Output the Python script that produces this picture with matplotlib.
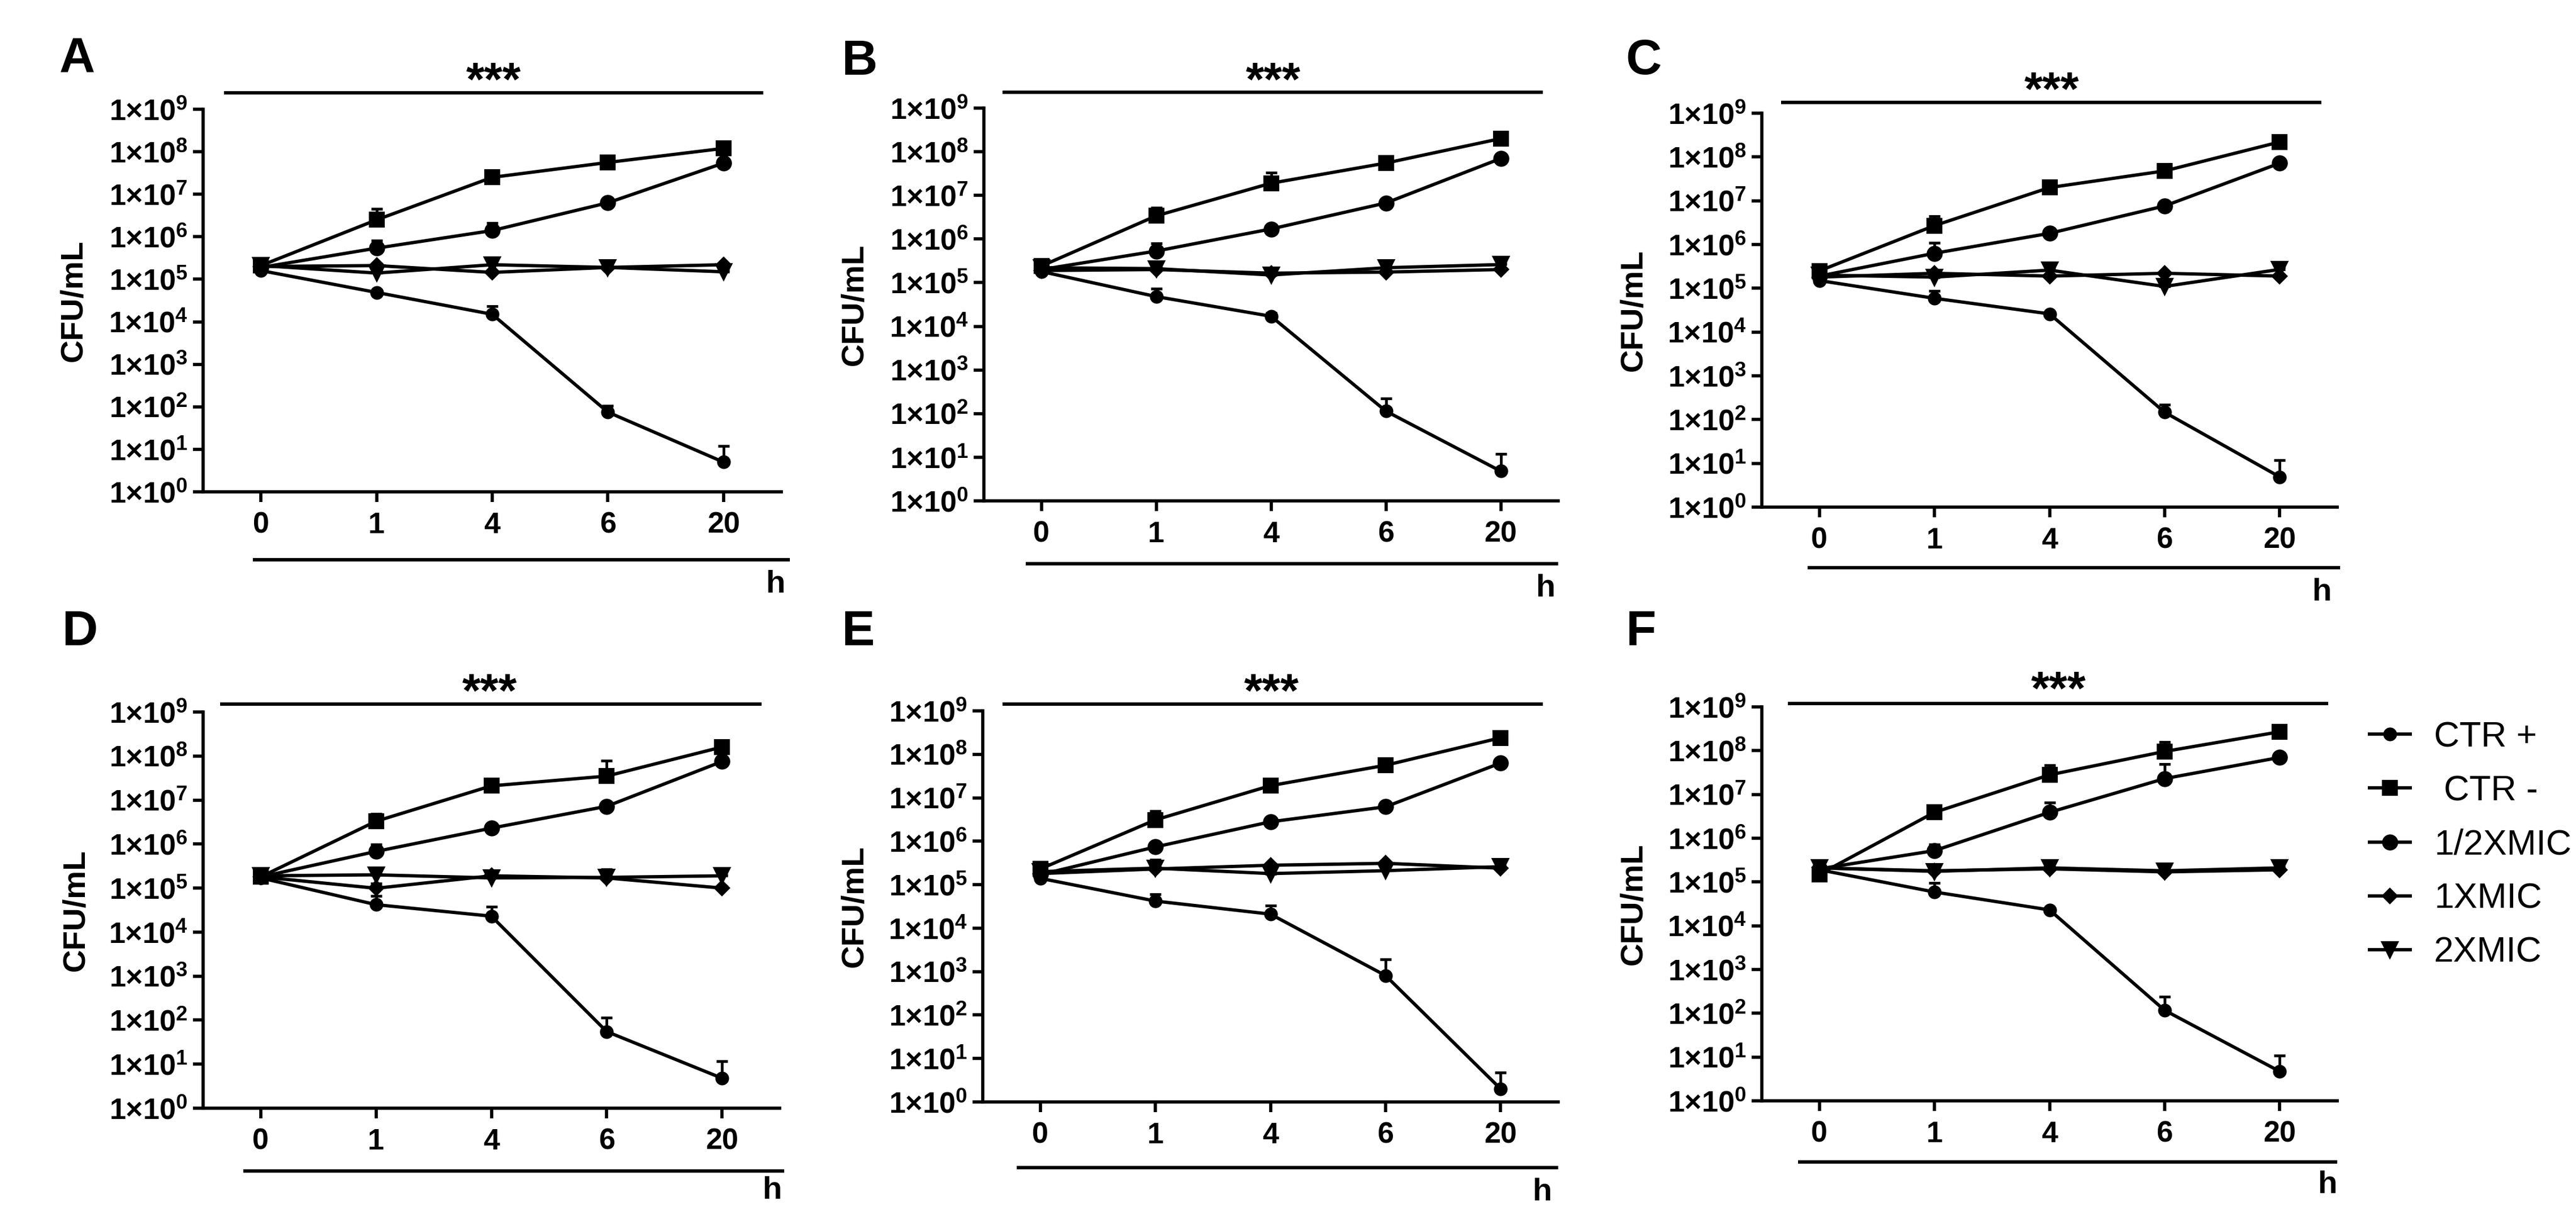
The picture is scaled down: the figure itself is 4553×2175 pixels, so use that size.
import matplotlib
matplotlib.use('Agg')
import matplotlib.pyplot as plt
from matplotlib import font_manager as fm
from matplotlib.lines import Line2D
from matplotlib.ticker import NullLocator
import numpy as np

names = {f.name for f in fm.fontManager.ttflist}
NARROW = 'Liberation Sans Narrow' if 'Liberation Sans Narrow' in names else 'Liberation Sans'
REG = 'Liberation Sans' if 'Liberation Sans' in names else 'DejaVu Sans'

plt.rcParams['font.family'] = [NARROW, 'DejaVu Sans']
plt.rcParams['font.weight'] = 'bold'
plt.rcParams['mathtext.fontset'] = 'custom'
plt.rcParams['mathtext.rm'] = NARROW
plt.rcParams['mathtext.default'] = 'rm'

# ---------------- data ----------------
time_labels = ['0', '1', '4', '6', '20']
panel_labels = ['A', 'B', 'C', 'D', 'E', 'F']
series_names = ['CTR +', ' CTR -', '1/2XMIC', '1XMIC', '2XMIC']
ytick_values = [1e0, 1e1, 1e2, 1e3, 1e4, 1e5, 1e6, 1e7, 1e8, 1e9]
ytick_labels = ['1×10$^{0}$', '1×10$^{1}$', '1×10$^{2}$', '1×10$^{3}$', '1×10$^{4}$',
                '1×10$^{5}$', '1×10$^{6}$', '1×10$^{7}$', '1×10$^{8}$', '1×10$^{9}$']
y_label = 'CFU/mL'
x_unit = 'h'
significance = '***'

ctr_pos_mean = [
    [1.6e5, 4.9e4, 1.5e4, 75, 5.0],
    [1.8e5, 4.8e4, 1.7e4, 114, 4.8],
    [1.5e5, 5.9e4, 2.6e4, 147, 4.9],
    [1.7e5, 4.2e4, 2.3e4, 55, 4.8],
    [1.4e5, 4.2e4, 2.1e4, 810, 2.0],
    [1.9e5, 5.9e4, 2.3e4, 117, 4.7],
]
ctr_pos_err = [
    [0, 6e3, 8e3, 30, 7],
    [0, 2.5e4, 3e3, 110, 7],
    [0, 2.9e4, 3e3, 70, 7],
    [0, 2.5e4, 1.5e4, 60, 7],
    [0, 1.8e4, 1.2e4, 1100, 2.7],
    [0, 3.6e4, 3e3, 120, 6],
]
ctr_neg_mean = [
    [2.1e5, 2.5e6, 2.5e7, 5.6e7, 1.2e8],
    [2.4e5, 3.4e6, 1.9e7, 5.5e7, 2.0e8],
    [2.5e5, 2.7e6, 2.0e7, 4.8e7, 2.2e8],
    [1.8e5, 3.3e6, 2.1e7, 3.5e7, 1.6e8],
    [2.3e5, 3.1e6, 1.9e7, 5.6e7, 2.4e8],
    [1.5e5, 3.9e6, 2.8e7, 9.6e7, 2.7e8],
]
ctr_neg_err = [
    [0, 2.0e6, 3e6, 8e6, 2e7],
    [0, 1.8e6, 1.4e7, 8e6, 3e7],
    [0, 1.7e6, 3e6, 5e6, 2e7],
    [0, 1.5e6, 3e6, 4.4e7, 1.5e7],
    [0, 1.8e6, 2e6, 5e6, 2e7],
    [0, 5e5, 1.9e7, 6e7, 2e7],
]
half_mic_mean = [
    [1.9e5, 5.4e5, 1.4e6, 6.3e6, 5.4e7],
    [2.0e5, 5.3e5, 1.7e6, 6.7e6, 7.0e7],
    [1.9e5, 6.3e5, 1.8e6, 7.6e6, 7.2e7],
    [1.8e5, 6.8e5, 2.3e6, 7.2e6, 7.5e7],
    [1.7e5, 7.4e5, 2.8e6, 6.2e6, 6.3e7],
    [2.0e5, 5.2e5, 3.9e6, 2.3e7, 7.0e7],
]
half_mic_err = [
    [0, 2.7e5, 7e5, 1e6, 5e6],
    [0, 2.6e5, 2e5, 1e6, 8e6],
    [0, 4.5e5, 2e5, 1e6, 5e6],
    [0, 3e5, 2e5, 5e5, 5e6],
    [0, 1e5, 3e5, 5e5, 5e6],
    [0, 2e5, 2.6e6, 2.7e7, 5e6],
]
one_mic_mean = [
    [2.0e5, 2.1e5, 1.45e5, 1.9e5, 2.2e5],
    [1.9e5, 2.0e5, 1.65e5, 1.75e5, 2.0e5],
    [1.8e5, 2.2e5, 1.9e5, 2.2e5, 1.9e5],
    [1.8e5, 9.9e4, 1.9e5, 1.7e5, 1.0e5],
    [1.8e5, 2.3e5, 2.8e5, 3.1e5, 2.4e5],
    [2.1e5, 1.8e5, 2.0e5, 1.7e5, 1.9e5],
]
one_mic_err = [
    [0, 2e4, 1e4, 1e4, 1e4],
    [0, 1e4, 1e4, 1e4, 1e4],
    [0, 2e4, 1e4, 1e4, 1e4],
    [0, 3e4, 1e4, 1e4, 1e4],
    [0, 2e4, 2e4, 2e4, 1e4],
    [0, 2e4, 1e4, 2e4, 1e4],
]
two_mic_mean = [
    [2.1e5, 1.4e5, 2.2e5, 1.9e5, 1.5e5],
    [2.2e5, 2.1e5, 1.5e5, 2.2e5, 2.6e5],
    [2.0e5, 1.8e5, 2.6e5, 1.1e5, 2.7e5],
    [1.9e5, 2.0e5, 1.7e5, 1.75e5, 1.9e5],
    [2.0e5, 2.4e5, 1.8e5, 2.1e5, 2.6e5],
    [2.1e5, 1.75e5, 2.1e5, 1.8e5, 2.1e5],
]
two_mic_err = [
    [0, 1e4, 4e4, 1e4, 1e4],
    [0, 2e4, 1e4, 2e4, 2e4],
    [0, 2e4, 4e4, 2e4, 3e4],
    [0, 2e4, 1e4, 9e4, 1e4],
    [0, 1.4e5, 1e4, 1e4, 1e4],
    [0, 7e4, 1e4, 6e4, 1e4],
]

series_means = [ctr_pos_mean, ctr_neg_mean, half_mic_mean, one_mic_mean, two_mic_mean]
series_errs = [ctr_pos_err, ctr_neg_err, half_mic_err, one_mic_err, two_mic_err]

# ---------------- style / layout (pixels in a 4553x2175 canvas) ----------------
W, H = 4553, 2175
DPI = 300
styles = [dict(marker='o', ms=4.8), dict(marker='s', ms=5.6), dict(marker='o', ms=5.8),
          dict(marker='D', ms=4.2), dict(marker='v', ms=6.2)]
LW = 1.4

# axes box: x0, x1, y_top(1e9), y_bottom(1e0)
layout = [
    dict(ax=(359, 1381, 193, 869), top=(396, 1349, 164), star=(872, 130),
         bot=(447, 1396, 989), h=(1370, 1047), letter=(105, 127), ylab=130),
    dict(ax=(1739, 2754, 191, 885), top=(1772, 2727, 163), star=(2250, 130),
         bot=(1813, 2754, 996), h=(2731, 1054), letter=(1487, 132), ylab=1510),
    dict(ax=(3114, 4131, 200, 896), top=(3148, 4103, 181), star=(3626, 147),
         bot=(3195, 4136, 1003), h=(4103, 1061), letter=(2873, 131), ylab=2887),
    dict(ax=(359, 1378, 1258, 1958), top=(389, 1346, 1244), star=(865, 1210),
         bot=(430, 1386, 2069), h=(1364, 2118), letter=(109, 1140), ylab=134),
    dict(ax=(1737, 2754, 1256, 1947), top=(1772, 2727, 1244), star=(2247, 1210),
         bot=(1797, 2754, 2063), h=(2725, 2121), letter=(1487, 1140), ylab=1510),
    dict(ax=(3114, 4131, 1249, 1945), top=(3160, 4115, 1243), star=(3638, 1206),
         bot=(3178, 4131, 2053), h=(4113, 2108), letter=(2873, 1140), ylab=2887),
]


def fx(px):
    return px / W


def fy(py):
    return 1 - py / H


fig = plt.figure(figsize=(W / DPI, H / DPI), dpi=DPI)
fig.patch.set_facecolor('white')

x = np.arange(len(time_labels))
STAR_FS = 20
for p, lay in enumerate(layout):
    x0, x1, yt, yb = lay['ax']
    ax = fig.add_axes([fx(x0), fy(yb), (x1 - x0) / W, (yb - yt) / H])
    ax.set_yscale('log')
    ax.set_ylim(1, 1e9)
    ax.set_xlim(-0.5, 4.5)
    for s in range(len(series_names)):
        mean = np.array(series_means[s][p], dtype=float)
        err = np.array(series_errs[s][p], dtype=float)
        ax.plot(x, mean, color='k', lw=LW, marker=styles[s]['marker'],
                ms=styles[s]['ms'], mec='k', mfc='k', clip_on=False, zorder=3)
        m = err > 0
        ax.errorbar(x[m], mean[m], yerr=[np.zeros(m.sum()), err[m]], fmt='none',
                    ecolor='k', elinewidth=1.15, capsize=2.4, capthick=1.15, zorder=2)
    ax.set_xticks(x)
    ax.set_xticklabels(time_labels)
    ax.set_yticks(ytick_values)
    ax.set_yticklabels(ytick_labels)
    ax.yaxis.set_minor_locator(NullLocator())
    for side in ('top', 'right'):
        ax.spines[side].set_visible(False)
    for side in ('left', 'bottom'):
        ax.spines[side].set_linewidth(1.35)
    ax.tick_params(axis='both', direction='out', length=4.3, width=1.35,
                   labelsize=12.5, colors='k')
    ax.tick_params(axis='y', pad=2.2)
    ax.tick_params(axis='x', pad=4.0)
    for lbl in ax.get_xticklabels() + ax.get_yticklabels():
        lbl.set_fontweight('bold')
        lbl.set_fontfamily(NARROW)
    ax.patch.set_alpha(0)

    # y label
    fig.text(fx(lay['ylab']), fy((yt + yb) / 2), y_label, rotation=90, ha='center',
             va='center', fontsize=13.5, fontweight='bold', family=REG)
    # significance bar
    tx0, tx1, ty = lay['top']
    fig.add_artist(Line2D([fx(tx0), fx(tx1)], [fy(ty), fy(ty)], color='k', lw=1.45,
                          solid_capstyle='butt', transform=fig.transFigure))
    sx, sy = lay['star']
    fig.text(fx(sx), fy(sy + 0.47 * STAR_FS * DPI / 72), significance, ha='center',
             va='baseline', fontsize=STAR_FS, fontweight='bold', family=NARROW)
    # time bar and unit
    bx0, bx1, by = lay['bot']
    fig.add_artist(Line2D([fx(bx0), fx(bx1)], [fy(by), fy(by)], color='k', lw=1.45,
                          solid_capstyle='butt', transform=fig.transFigure))
    hx, hy = lay['h']
    fig.text(fx(hx), fy(hy), x_unit, ha='center', va='baseline', fontsize=13.5,
             fontweight='bold', family=NARROW)
    # panel letter
    lx, ly = lay['letter']
    fig.text(fx(lx), fy(ly), panel_labels[p], ha='left', va='baseline', fontsize=21,
             fontweight='bold', family=NARROW)

leg_handles = [Line2D([], [], color='k', lw=LW, marker=st['marker'], ms=st['ms'],
                      mfc='k', mec='k') for st in styles]
fs = 15
fpx = fs * DPI / 72
leg = fig.legend(leg_handles, series_names, loc='upper left',
                 bbox_to_anchor=(fx(4188), fy(1273)), frameon=False, borderpad=0,
                 borderaxespad=0, handlelength=72 / fpx, handletextpad=42 / fpx,
                 labelspacing=0.58, prop=dict(family=REG, weight='normal', size=fs))

fig.savefig('out.png', dpi=DPI, facecolor='white')
